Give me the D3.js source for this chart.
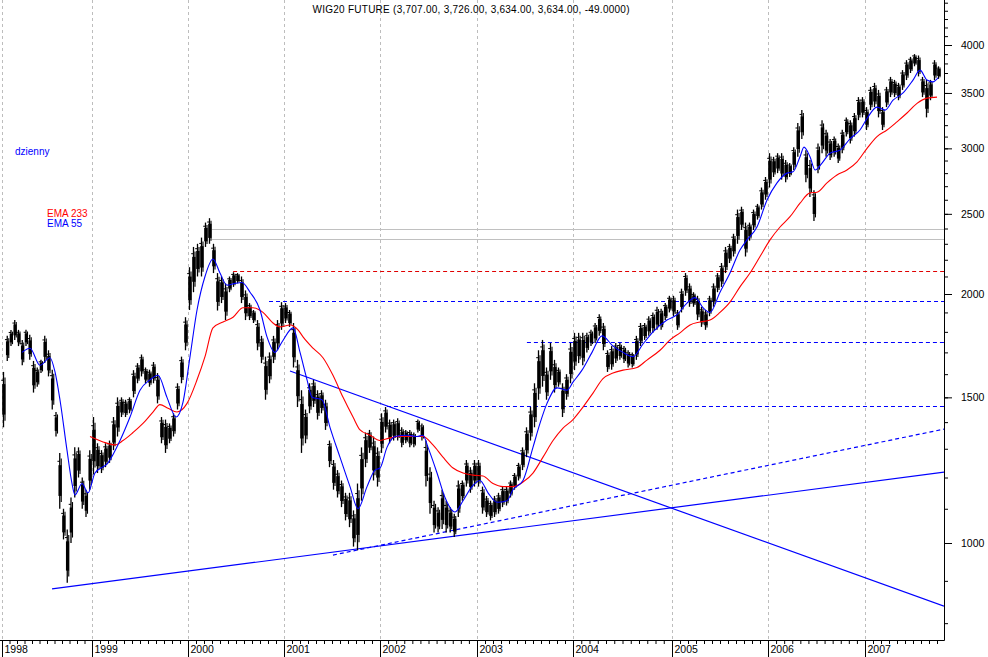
<!DOCTYPE html>
<html><head><meta charset="utf-8">
<script src="https://cdn.jsdelivr.net/npm/d3@7"></script>
<style>
body{margin:0;background:#fff}
text{font-family:"Liberation Sans",Arial,sans-serif}
</style>
</head><body>
<svg id="c" width="988" height="657"></svg>
<script>
// ---- data (half-month high/low ranges, starting Jan 1998) ----
const startYear = 1998, periodsPerYear = 24;
const highs = [
 1610,1780,1809,1860,1810,1760,1810,1785,1660,1630,1665,1780,1710,1620,1440,1285,1100,1038,1135,1305,1305,1200,1160,1295, // 1998
 1420,1320,1295,1320,1330,1420,1500,1500,1490,1500,1618,1650,1690,1630,1620,1655,1605,1420,1410,1395,1435,1560,1680,1875, // 1999
 2155,2280,2300,2340,2440,2470,2300,2120,2100,2060,2100,2125,2120,2100,2020,1950,1913,1860,1780,1680,1700,1780,1860,1955, // 2000
 1950,1913,1845,1665,1530,1450,1560,1575,1530,1530,1490,1330,1260,1225,1190,1150,1150,1095,1180,1305,1360,1370,1345,1305, // 2001
 1435,1460,1410,1410,1415,1380,1370,1370,1360,1410,1395,1330,1235,1125,1105,1160,1125,1105,1085,1190,1190,1260,1235,1260, // 2002
 1260,1170,1140,1125,1140,1150,1170,1170,1190,1215,1250,1305,1380,1460,1560,1710,1760,1630,1745,1665,1630,1560,1600,1745, // 2003
 1795,1795,1795,1795,1810,1845,1890,1845,1710,1730,1745,1745,1730,1710,1700,1780,1845,1845,1880,1900,1930,1920,1950,1990, // 2004
 1990,1913,2030,2120,2060,2010,1990,1930,1913,1990,2060,2120,2180,2280,2300,2365,2530,2550,2440,2440,2530,2570,2690,2770, // 2005
 2960,2930,2960,2960,2905,2880,3010,3220,3337,2985,2905,2670,3040,3245,3160,3080,3100,3040,3160,3270,3245,3310,3460,3460, // 2006
 3365,3560,3600,3530,3365,3560,3660,3630,3600,3730,3835,3870,3900,3885,3660,3630,3630,3835,3770                           // 2007
];
const lows = [
 1380,1660,1730,1760,1730,1640,1730,1665,1520,1545,1605,1650,1590,1450,1345,1100,1010,895,1000,1135,1200,1100,1075,1160,
 1210,1215,1215,1235,1250,1295,1345,1420,1420,1435,1500,1560,1590,1560,1545,1560,1475,1320,1285,1320,1345,1450,1560,1710,
 1913,2010,2100,2100,2280,2300,2120,1910,1950,1860,2010,2040,2060,1950,1860,1860,1845,1710,1650,1490,1560,1650,1710,1810,
 1845,1825,1630,1460,1285,1320,1435,1460,1410,1435,1370,1235,1160,1135,1105,1065,1045,990,980,1125,1235,1285,1190,1170,
 1285,1360,1320,1330,1330,1305,1320,1305,1305,1360,1330,1170,1085,1030,1030,1040,1030,1030,1017,1075,1125,1170,1150,1170,
 1170,1085,1075,1065,1075,1085,1105,1110,1135,1160,1190,1225,1270,1330,1380,1490,1545,1490,1575,1520,1545,1420,1490,1560,
 1618,1650,1640,1700,1730,1745,1780,1710,1610,1620,1650,1665,1650,1630,1630,1665,1730,1760,1780,1795,1810,1810,1860,1900,
 1880,1810,1900,1990,1930,1930,1860,1825,1810,1880,1930,2010,2040,2120,2180,2220,2300,2390,2220,2320,2390,2460,2530,2600,
 2690,2770,2800,2750,2730,2770,2825,2930,3080,2730,2620,2450,2800,2960,2930,2905,2930,2880,2960,3100,3040,3100,3245,3270,
 3157,3337,3365,3270,3157,3365,3460,3460,3430,3530,3628,3700,3770,3665,3460,3270,3430,3628,3640
];
// EMA 55 (blue)
const ema55Time = [1998.222,1998.311,1998.422,1998.533,1998.589,1998.644,1998.722,1998.778,1998.811,1998.889,1998.956,
 1999.031,1999.167,1999.292,1999.396,1999.5,1999.604,1999.688,1999.781,1999.875,1999.948,
 2000.021,2000.094,2000.177,2000.26,2000.333,2000.406,2000.49,2000.5625,2000.646,2000.75,2000.823,2000.906,2000.979,
 2001.094,2001.167,2001.24,2001.292,2001.396,2001.479,2001.583,2001.6875,2001.771,2001.865,2001.948,
 2002.0,2002.072,2002.155,2002.278,2002.381,2002.443,2002.495,2002.588,2002.67,2002.773,2002.856,2002.948,
 2003.031,2003.115,2003.208,2003.3125,2003.375,2003.479,2003.583,2003.656,2003.729,2003.833,2003.9375,
 2004.0,2004.091,2004.192,2004.293,2004.404,2004.505,2004.606,2004.707,2004.808,2004.949,
 2005.052,2005.156,2005.24,2005.323,2005.396,2005.5,2005.604,2005.708,2005.781,2005.885,2005.99,
 2006.093,2006.196,2006.258,2006.33,2006.371,2006.433,2006.485,2006.557,2006.639,2006.742,2006.845,2006.948,
 2007.021,2007.125,2007.208,2007.292,2007.396,2007.5,2007.573,2007.646,2007.708,2007.76];
const ema55Value = [1700,1720,1640,1675,1610,1490,1295,1180,1143,1180,1150,
 1215,1250,1330,1420,1530,1575,1595,1500,1420,1480,
 1680,1913,2100,2205,2120,2050,2060,2065,2010,1913,1775,1700,1750,
 1820,1700,1575,1500,1490,1380,1270,1170,1100,1170,1225,
 1232,1305,1345,1350,1345,1350,1305,1215,1135,1090,1125,1170,
 1190,1150,1120,1125,1160,1190,1305,1395,1475,1540,1530,
 1565,1618,1700,1780,1730,1700,1680,1740,1800,1860,
 1888,1950,1980,1925,1900,2010,2120,2260,2325,2410,2598,
 2725,2800,2810,2930,3010,2930,2825,2880,2960,2985,3080,3157,
 3260,3365,3337,3430,3500,3628,3730,3628,3610,3650];
// EMA 233 (red)
const ema233Time = [1998.978,1999.115,1999.24,1999.323,1999.427,1999.531,1999.635,1999.708,1999.792,1999.885,1999.99,
 2000.094,2000.177,2000.26,2000.365,2000.469,2000.573,2000.677,2000.781,2000.885,2000.958,
 2001.0625,2001.146,2001.198,2001.302,2001.406,2001.51,2001.615,2001.719,2001.792,2001.896,
 2002.0,2002.103,2002.206,2002.34,2002.443,2002.546,2002.649,2002.753,2002.856,2002.959,
 2003.0625,2003.167,2003.271,2003.375,2003.479,2003.583,2003.6875,2003.792,2003.896,
 2004.0,2004.101,2004.202,2004.303,2004.404,2004.505,2004.646,2004.747,2004.879,2004.98,
 2005.083,2005.1875,2005.292,2005.396,2005.5,2005.604,2005.708,2005.8125,2005.917,
 2006.021,2006.124,2006.227,2006.33,2006.433,2006.505,2006.608,2006.711,2006.814,2006.918,
 2007.021,2007.125,2007.229,2007.333,2007.4375,2007.542,2007.646,2007.75];
const ema233Value = [1345,1325,1314,1330,1360,1395,1440,1470,1455,1440,1475,
 1575,1680,1820,1850,1875,1925,1925,1900,1845,1825,
 1835,1810,1775,1720,1675,1595,1500,1420,1370,1350,
 1330,1340,1345,1345,1345,1314,1270,1232,1215,1208,
 1205,1180,1170,1170,1185,1215,1270,1330,1377,
 1410,1460,1518,1580,1605,1618,1630,1664,1710,1760,
 1795,1835,1850,1860,1900,1955,2040,2120,2220,
 2325,2410,2480,2575,2650,2655,2725,2785,2825,2890,
 3000,3100,3157,3230,3310,3400,3450,3460];
// horizontal support / resistance levels
const levelValues = [2396, 2330, 2132, 1961, 1750, 1464];
const levelStart  = [2000.25, 2000.25, 2000.47, 2000.844, 2003.52, 2002.072];
// trend lines: start / end points
const trendStartT = [1998.556, 2001.0625, 2001.51];
const trendStartV = [880, 1614, 967];
const trendEndT   = [2007.823, 2007.823, 2007.823];
const trendEndV   = [1218, 839, 1373];
const yearTicks = [1998,1999,2000,2001,2002,2003,2004,2005,2006,2007];
const priceMajor = [1000,1500,2000,2500,3000,3500,4000];
const priceMinor = d3.range(800, 4600, 100);
const title = "WIG20 FUTURE (3,707.00, 3,726.00, 3,634.00, 3,634.00, -49.0000)";

// ---- layout ----
const W = 988, H = 657, right = 944, bottom = 640;
const svg = d3.select("#c");
const x = d3.scaleLinear()
  .domain([1998,1999,2000,2001,2002,2003,2004,2005,2006,2007,2008])
  .range([2,92,188,284,380,477,573,672,768,865,961]);
const y = d3.scaleLog().domain([1000,4000]).range([543,45]);

svg.append("rect").attr("width",W).attr("height",H).attr("fill","#fff");
svg.append("clipPath").attr("id","plot").append("rect")
  .attr("x",0).attr("y",0).attr("width",right).attr("height",bottom);

// vertical year gridlines
svg.append("g").selectAll("line").data(yearTicks).join("line")
  .attr("x1",d=>Math.round(x(d))+0.5).attr("x2",d=>Math.round(x(d))+0.5)
  .attr("y1",0).attr("y2",bottom)
  .attr("stroke","#bdbdbd").attr("stroke-dasharray","3,3");

const plot = svg.append("g").attr("clip-path","url(#plot)");

// horizontal levels
const levelColor = ["#c0c0c0","#c0c0c0","#e00000","#0000ff","#0000ff","#0000ff"];
const levelDash  = [null,null,"4,3","4,3","4,3","4,3"];
plot.append("g").selectAll("line").data(levelValues).join("line")
  .attr("x1",(d,i)=>x(levelStart[i])).attr("x2",right)
  .attr("y1",d=>Math.round(y(d))+0.5).attr("y2",d=>Math.round(y(d))+0.5)
  .attr("stroke",(d,i)=>levelColor[i])
  .attr("stroke-dasharray",(d,i)=>levelDash[i])
  .attr("stroke-width",1);

// trend lines
const trendDash = [null,null,"4,3"];
plot.append("g").selectAll("line").data(trendStartT).join("line")
  .attr("x1",(d,i)=>x(trendStartT[i])).attr("y1",(d,i)=>y(trendStartV[i]))
  .attr("x2",(d,i)=>x(trendEndT[i])).attr("y2",(d,i)=>y(trendEndV[i]))
  .attr("stroke","#0000ff").attr("stroke-width",1.2)
  .attr("stroke-dasharray",(d,i)=>trendDash[i]);

// price bars: thin full-range stroke + denser core, mimicking packed daily bars
const bars = highs.map((h,i)=>({t:startYear+i/periodsPerYear, hi:h, lo:lows[i]}));
const gBars = plot.append("g");
gBars.selectAll("line.rng").data(bars).join("line").attr("class","rng")
  .attr("x1",d=>x(d.t)+1.5).attr("x2",d=>x(d.t)+1.5)
  .attr("y1",d=>y(d.hi)).attr("y2",d=>y(d.lo))
  .attr("stroke","#000").attr("stroke-width",1.3);
gBars.selectAll("line.rng2").data(bars).join("line").attr("class","rng2")
  .attr("x1",d=>x(d.t)+3).attr("x2",d=>x(d.t)+3)
  .attr("y1",d=>y(d.hi)+(y(d.lo)-y(d.hi))*0.1).attr("y2",d=>y(d.lo)-(y(d.lo)-y(d.hi))*0.12)
  .attr("stroke","#000").attr("stroke-width",1.1);
gBars.selectAll("rect").data(bars).join("rect")
  .attr("x",d=>x(d.t)+0.2)
  .attr("width",d=>Math.max(1,(x(d.t+1/periodsPerYear)-x(d.t))-0.6))
  .attr("y",d=>y(d.hi)+(y(d.lo)-y(d.hi))*0.22)
  .attr("height",d=>(y(d.lo)-y(d.hi))*0.55)
  .attr("fill","#000");
// open/close style ticks
gBars.selectAll("line.tk").data(bars).join("line").attr("class","tk")
  .attr("x1",d=>x(d.t)-0.8).attr("x2",d=>x(d.t)+1.5)
  .attr("y1",d=>y(d.hi)+(y(d.lo)-y(d.hi))*0.15).attr("y2",d=>y(d.hi)+(y(d.lo)-y(d.hi))*0.15)
  .attr("stroke","#000").attr("stroke-width",1);

// EMA lines
const line = d3.line().x(d=>x(d[0])).y(d=>y(d[1])).curve(d3.curveMonotoneX);
plot.append("path").datum(ema233Time.map((t,i)=>[t,ema233Value[i]]))
  .attr("d",line).attr("fill","none").attr("stroke","#ff0000").attr("stroke-width",1.1);
plot.append("path").datum(ema55Time.map((t,i)=>[t,ema55Value[i]]))
  .attr("d",line).attr("fill","none").attr("stroke","#0000ff").attr("stroke-width",1.1);

// right axis
const axR = svg.append("g").attr("transform",`translate(${right},0)`);
axR.append("g").call(d3.axisRight(y).tickValues(priceMinor.filter(v=>y(v)<bottom && y(v)>0)).tickSize(4).tickFormat(""))
  .call(g=>g.select(".domain").remove());
axR.append("g").call(d3.axisRight(y).tickValues(priceMajor).tickSize(8).tickPadding(9).tickFormat(d3.format("d")))
  .call(g=>g.select(".domain").remove())
  .call(g=>g.selectAll("text").attr("font-size","10.5px").attr("fill","#000"));
svg.append("line").attr("x1",right+0.5).attr("x2",right+0.5).attr("y1",0).attr("y2",bottom+0.5)
  .attr("stroke","#000");

// bottom axis
const months = d3.range(0,118).map(m=>1998+m/12).filter(t=>x(t)<right);
const axB = svg.append("g").attr("transform",`translate(0,${bottom})`);
axB.append("g").call(d3.axisBottom(x).tickValues(months).tickSize(4).tickFormat(""))
  .call(g=>g.select(".domain").remove());
axB.append("g").call(d3.axisBottom(x).tickValues(yearTicks).tickSize(17).tickFormat(d3.format("d")))
  .call(g=>g.select(".domain").remove())
  .call(g=>g.selectAll("text").attr("text-anchor","start").attr("x",2).attr("y",6)
      .attr("font-size","10.5px").attr("fill","#000"));
svg.append("line").attr("x1",0).attr("x2",right+0.5).attr("y1",bottom+0.5).attr("y2",bottom+0.5)
  .attr("stroke","#000");

// texts
svg.append("text").attr("x",471).attr("y",13).attr("text-anchor","middle")
  .attr("font-size","10px").attr("fill","#000").attr("textLength",317).attr("lengthAdjust","spacing").text(title);
svg.append("text").attr("x",15).attr("y",155).attr("font-size","10px").attr("fill","#0000ff").text("dzienny");
svg.append("text").attr("x",47).attr("y",217).attr("font-size","10px").attr("fill","#ff0000").text("EMA 233");
svg.append("text").attr("x",47).attr("y",227).attr("font-size","10px").attr("fill","#0000ff").text("EMA 55");
</script>
</body></html>
